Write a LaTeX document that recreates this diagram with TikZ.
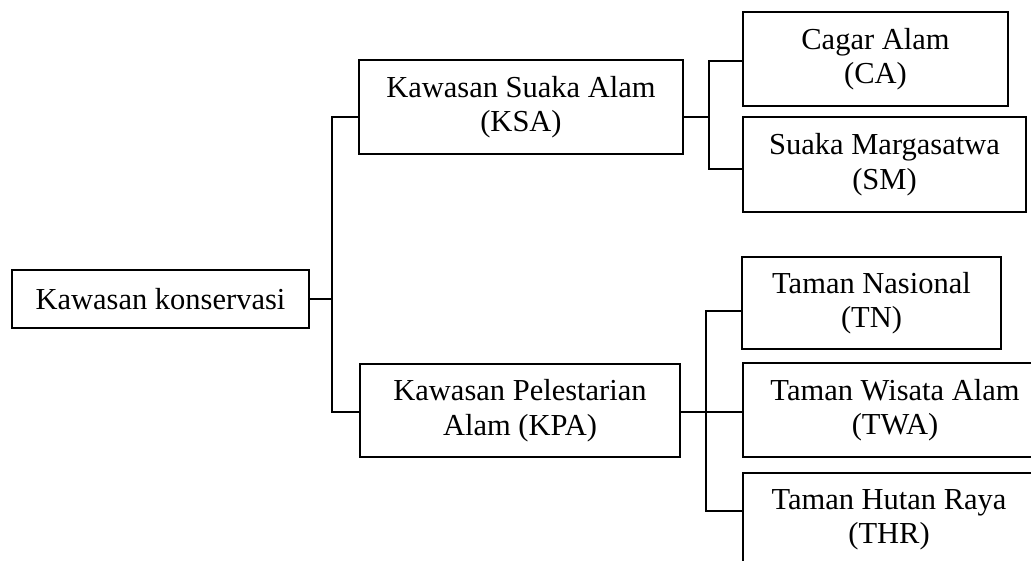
\documentclass[tikz,border=0pt]{standalone}
\usepackage{fontspec}
\setmainfont{Liberation Serif}
\begin{document}
\begin{tikzpicture}[x=1pt,y=-1pt,
        box/.style={draw,line width=1.6pt,align=center,inner sep=0pt,
            font=\fontsize{30.5}{34.5}\selectfont},
        link/.style={line width=1.6pt}]
        \clip (0,0) rectangle (1031,560);
        \fill[white] (0,0) rectangle (1031,560);
        \node [box,minimum width=297pt,minimum height=58pt] (kons) at (160.5,299) {Kawasan konservasi};
        \node [box,minimum width=324pt,minimum height=94pt] (ksa) at (521,107) {Kawasan Suaka Alam\\(KSA)};
        \node [box,minimum width=320pt,minimum height=93pt] (kpa) at (520,410.5) {Kawasan Pelestarian\\Alam (KPA)};
        \node [box,minimum width=265pt,minimum height=94pt] (ca) at (875.5,59) {Cagar Alam\\(CA)};
        \node [box,minimum width=283pt,minimum height=95pt] (sm) at (884.5,164.5) {Suaka Margasatwa\\(SM)};
        \node [box,minimum width=259pt,minimum height=92pt] (tn) at (871.5,303) {Taman Nasional\\(TN)};
        \node [box,minimum width=304pt,minimum height=94pt] (twa) at (895,410) {Taman Wisata Alam\\(TWA)};
        \node [box,minimum width=292pt,minimum height=94pt] (thr) at (889,520) {Taman Hutan Raya\\(THR)};

        \coordinate (jk1) at (332,117);
        \coordinate (jk2) at (332,412);
        \coordinate (js1) at (709,61);
        \coordinate (js2) at (709,169);
        \coordinate (jp1) at (706,311);
        \coordinate (jp2) at (706,511);

        \draw [link] (kons.east) -- (kons.east -| jk1);
        \draw [link] (ksa.west |- jk1) -- (jk1) -- (jk2) -- (kpa.west |- jk2);
        \draw [link] (ksa.east |- jk1) -- (jk1 -| js1);
        \draw [link] (ca.west |- js1) -- (js1) -- (js2) -- (sm.west |- js2);
        \draw [link] (kpa.east |- jk2) -- (twa.west |- jk2);
        \draw [link] (tn.west |- jp1) -- (jp1) -- (jp2) -- (thr.west |- jp2);

    \end{tikzpicture}
\end{document}
